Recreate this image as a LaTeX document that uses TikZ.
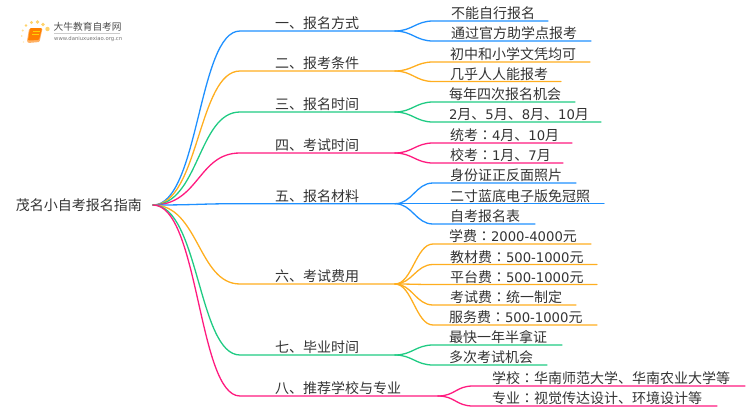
\documentclass[tikz,border=0pt]{standalone}
\usepackage{fontspec}
\setmainfont{DejaVu Sans}
\newfontfamily\cjk{Noto Sans CJK SC}
\newfontfamily\cjktc{Noto Sans CJK TC}
\newfontfamily\dejavu{DejaVu Sans}
\newcommand{\lat}[1]{{\dejavu\fontsize{13.2}{16}\selectfont #1}}
\newcommand{\cln}{{\cjktc ：}}
\definecolor{cblue}{HTML}{1E90FF}
\definecolor{corange}{HTML}{FFAE1F}
\definecolor{cgreen}{HTML}{1FCB83}
\definecolor{cpink}{HTML}{FF1A7F}
\definecolor{txt}{HTML}{333333}
\definecolor{dotc}{HTML}{FFD36B}
\tikzset{
  rootbox/.style={inner sep=0pt,anchor=east,text=txt,font=\cjk\fontsize{14}{16}\selectfont},
  itembox/.style={inner sep=0pt,outer sep=0pt,anchor=south west,align=left,text=txt,
    text height=13pt,text depth=2.4pt,font=\cjk\fontsize{14}{16}\selectfont},
  wire/.style={line width=1.3pt,line cap=round},
}
% \branch{name}{ystart of line}{colour}{xend}{text}
\newcommand{\branch}[5]{%
  \pgfmathsetmacro{\itemw}{#4-240}
  \node[itembox,text width=\itemw pt] (#1) at (240,#2) {\hspace*{35pt}#5};
  \draw[wire,#3] (rootend) .. controls +(46,0) and +(-42,0) .. (#1.south west) -- (#1.south east);
}
% \leaf{parent}{name}{y}{xstart}{xend}{colour}{textshift}{text}
\newcommand{\leaf}[8]{%
  \pgfmathsetmacro{\itemw}{#5-#4}
  \node[itembox,text width=\itemw pt] (#2) at (#4,#3) {\hspace*{#7pt}#8};
  \draw[wire,#6] (#1.south east) .. controls +(17,0) and +(-17,0) .. (#2.south west) -- (#2.south east);
}
\begin{document}
\begin{tikzpicture}[x=1pt,y=-1pt]
\useasboundingbox (0,0) rectangle (750,410);
% logo
\fill[dotc] (47.5,29) circle (2.2) (43,24.5) circle (1.8) (37.5,22) circle (1.9) (31.5,22.5) circle (1.7) (26,25.5) circle (1.4);
\fill[dotc!70!white] (22.8,30.5) circle (1.1) (21.8,36) circle (.9);
\fill[dotc!40!white] (23.5,42) circle (.8);
\fill[orange!60!white,rounded corners=1pt] (29,29) -- (42.5,28.5) -- (39.5,42) -- (28,43) -- (27,41) -- cycle;
\fill[orange,rounded corners=1pt] (30,28) -- (42,28) -- (39,40) -- (28,40.5) -- cycle;
\fill[yellow!70!orange] (32.5,30.5) rectangle (39.5,32);
\fill[yellow!70!orange] (32,33.5) rectangle (38.5,34.5);
\node[inner sep=0pt,anchor=west,text=black!70] (logot) at (53.5,27) {\cjk\fontsize{9.7}{11}\selectfont 大牛教育自考网};
\node[inner sep=0pt,anchor=west,text=black!55] (logou) at (54,39) {\dejavu\fontsize{5.3}{6}\selectfont www.daniuxuexiao.org.cn};
\draw[black!20,line width=.5pt] (54,33.5) -- (120,33.5);
% root
\node[rootbox] (root) at (142,205) {茂名小自考报名指南};
\coordinate (rootend) at (153,205);
% branches
\branch{b1}{31}{cblue}{395}{一、报名方式}
\branch{b2}{71}{corange}{395}{二、报考条件}
\branch{b3}{112}{cgreen}{395}{三、报名时间}
\branch{b4}{153}{cpink}{395}{四、考试时间}
\branch{b5}{203.7}{cblue}{395}{五、报名材料}
\branch{b6}{284}{corange}{395}{六、考试费用}
\branch{b7}{355}{cgreen}{395}{七、毕业时间}
\branch{b8}{396}{cpink}{438}{八、推荐学校与专业}
% leaves
\leaf{b1}{l11}{21}{433}{548}{cblue}{18}{不能自行报名}
\leaf{b1}{l12}{41}{433}{591}{cblue}{18}{通过官方助学点报考}
\leaf{b2}{l21}{62}{433}{590}{corange}{17}{初中和小学文凭均可}
\leaf{b2}{l22}{81.5}{433}{561}{corange}{17}{几乎人人能报考}
\leaf{b3}{l31}{102}{433}{575}{cgreen}{16}{每年四次报名机会}
\leaf{b3}{l32}{122}{433}{601}{cgreen}{16}{\lat{2}月、\lat{5}月、\lat{8}月、\lat{10}月}
\leaf{b4}{l41}{143}{433}{572}{cpink}{17}{统考\cln\lat{4}月、\lat{10}月}
\leaf{b4}{l42}{163}{433}{563}{cpink}{17}{校考\cln\lat{1}月、\lat{7}月}
\leaf{b5}{l51}{183}{433}{576}{cblue}{17}{身份证正反面照片}
\leaf{b5}{l52}{203.7}{433}{604}{cblue}{17}{二寸蓝底电子版免冠照}
\leaf{b5}{l53}{224}{433}{535}{cblue}{17}{自考报名表}
\leaf{b6}{l61}{244}{433}{591}{corange}{16}{学费\cln\lat{2000-4000}元}
\leaf{b6}{l62}{264.5}{433}{597}{corange}{17}{教材费\cln\lat{500-1000}元}
\leaf{b6}{l63}{284.5}{433}{597}{corange}{17}{平台费\cln\lat{500-1000}元}
\leaf{b6}{l64}{305}{433}{576}{corange}{17}{考试费\cln 统一制定}
\leaf{b6}{l65}{325}{433}{597}{corange}{16}{服务费\cln\lat{500-1000}元}
\leaf{b7}{l71}{345}{433}{562}{cgreen}{16}{最快一年半拿证}
\leaf{b7}{l72}{365}{433}{547}{cgreen}{16}{多次考试机会}
\leaf{b8}{l81}{386}{473}{745}{cpink}{19}{学校\cln 华南师范大学、华南农业大学等}
\leaf{b8}{l82}{406}{473}{717}{cpink}{19}{专业\cln 视觉传达设计、环境设计等}
\end{tikzpicture}
\end{document}
